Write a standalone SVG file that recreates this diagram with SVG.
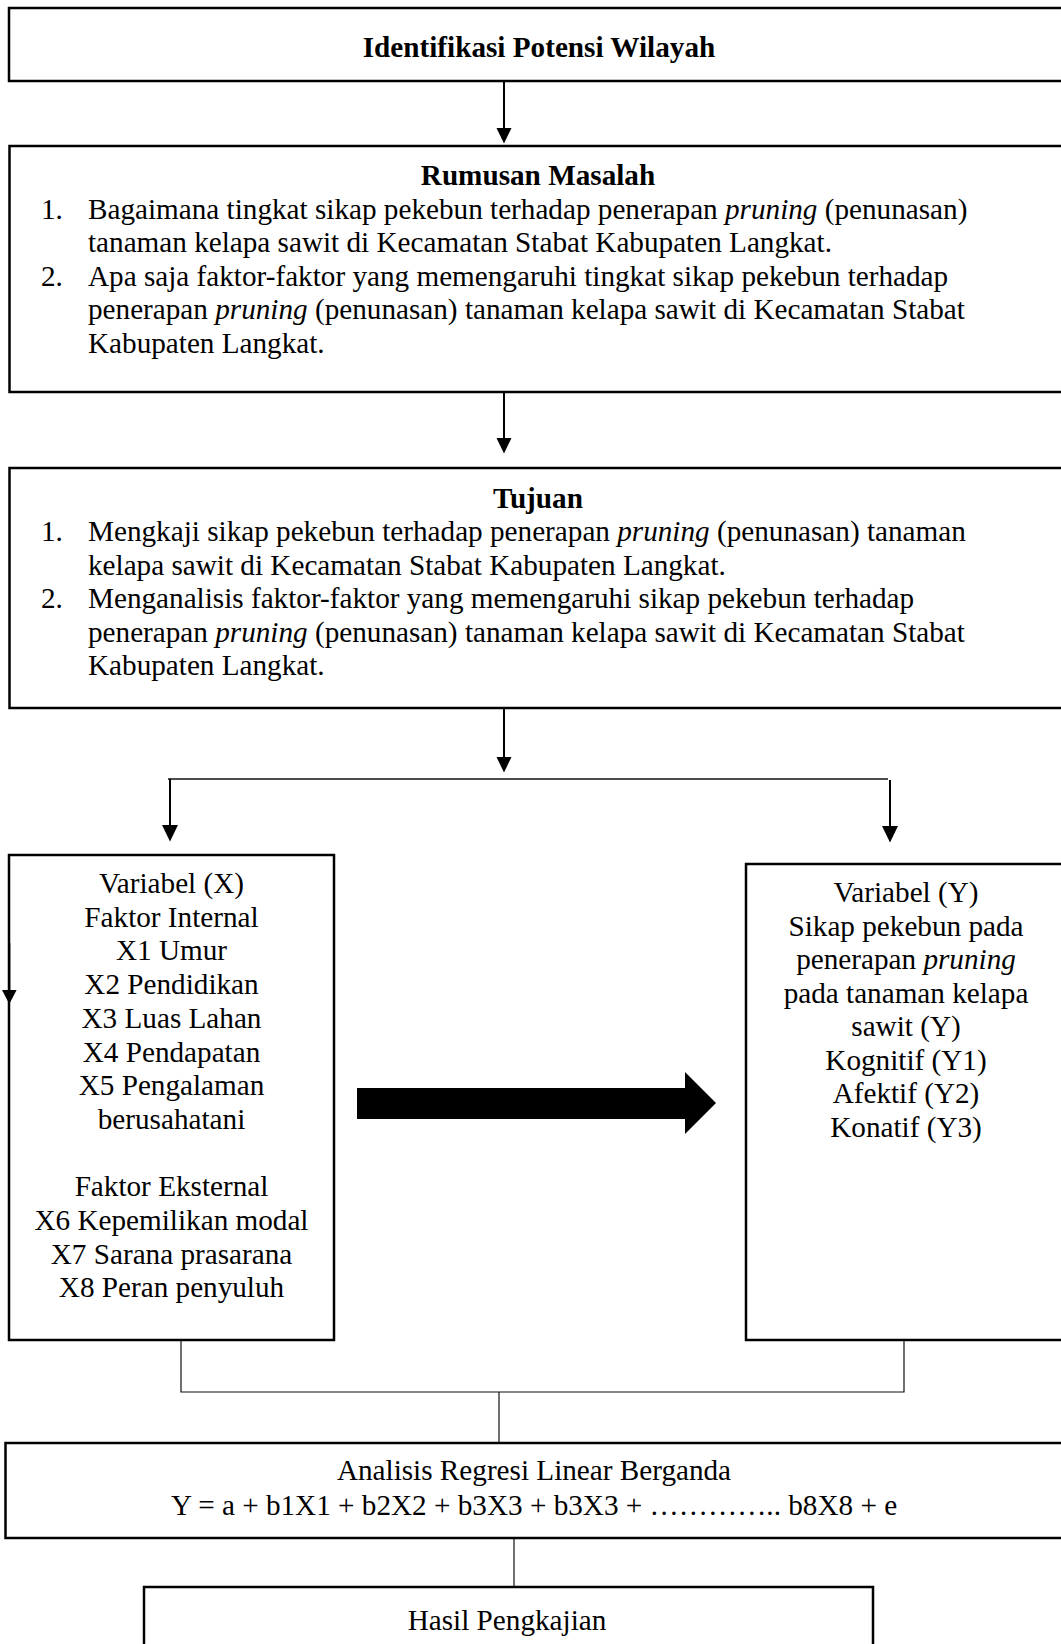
<svg xmlns="http://www.w3.org/2000/svg" width="1061" height="1644" viewBox="0 0 1061 1644">
<style>
.box{fill:#fff;stroke:#000;stroke-width:2.5}
.t{font-family:"Liberation Serif","Times New Roman",serif;font-size:29.2px;fill:#000}
.c{text-anchor:middle}
.b{font-weight:bold}
.i{font-style:italic}
.ln{stroke:#000;stroke-width:2;fill:none}
.thin{stroke:#111;stroke-width:1.2;fill:none}
.head{fill:#000}
</style>
<rect width="1061" height="1644" fill="#fff"/>
<g id="connectors">
<line class="ln" x1="504" y1="81" x2="504" y2="130"/>
<polygon class="head" points="496.5,128 511.5,128 504,143.5"/>
<line class="ln" x1="504" y1="392" x2="504" y2="440"/>
<polygon class="head" points="496.5,438 511.5,438 504,453.5"/>
<line class="ln" x1="504" y1="708" x2="504" y2="759"/>
<polygon class="head" points="496.5,757 511.5,757 504,772.5"/>
<line class="thin" x1="168" y1="779" x2="888" y2="779" style="stroke-width:1.6"/>
<line class="ln" x1="170" y1="779" x2="170" y2="827"/>
<polygon class="head" points="162,825 178,825 170,841.5"/>
<line class="ln" x1="890" y1="780" x2="890" y2="828"/>
<polygon class="head" points="882,826 898,826 890,842.5"/>
<polygon class="head" points="357,1088 685,1088 685,1072 716,1103 685,1134 685,1119 357,1119"/>
<polyline class="thin" points="181,1340 181,1392 904,1392 904,1340"/>
<line class="thin" x1="499" y1="1392" x2="499" y2="1443"/>
<line class="thin" x1="514" y1="1535" x2="514" y2="1587"/>
</g>
<g id="node-identifikasi">
<rect class="box" x="9" y="8" width="1070" height="73"/>
<text class="t c b" x="539" y="57">Identifikasi Potensi Wilayah</text>
</g>
<g id="node-rumusan">
<rect class="box" x="9.5" y="146" width="1070" height="246"/>
<text class="t c b" x="538" y="184.5">Rumusan Masalah</text>
<text class="t" x="41" y="218.5">1.</text>
<text class="t" x="88" y="218.5">Bagaimana tingkat sikap pekebun terhadap penerapan <tspan class="i">pruning</tspan> (penunasan)</text>
<text class="t" x="88" y="252">tanaman kelapa sawit di Kecamatan Stabat Kabupaten Langkat.</text>
<text class="t" x="41" y="285.5">2.</text>
<text class="t" x="88" y="285.5">Apa saja faktor-faktor yang memengaruhi tingkat sikap pekebun terhadap</text>
<text class="t" x="88" y="319">penerapan <tspan class="i">pruning</tspan> (penunasan) tanaman kelapa sawit di Kecamatan Stabat</text>
<text class="t" x="88" y="352.5">Kabupaten Langkat.</text>
</g>
<g id="node-tujuan">
<rect class="box" x="9.5" y="468" width="1070" height="240"/>
<text class="t c b" x="538" y="508">Tujuan</text>
<text class="t" x="41" y="541">1.</text>
<text class="t" x="88" y="541">Mengkaji sikap pekebun terhadap penerapan <tspan class="i">pruning</tspan> (penunasan) tanaman</text>
<text class="t" x="88" y="574.5">kelapa sawit di Kecamatan Stabat Kabupaten Langkat.</text>
<text class="t" x="41" y="608">2.</text>
<text class="t" x="88" y="608">Menganalisis faktor-faktor yang memengaruhi sikap pekebun terhadap</text>
<text class="t" x="88" y="641.5">penerapan <tspan class="i">pruning</tspan> (penunasan) tanaman kelapa sawit di Kecamatan Stabat</text>
<text class="t" x="88" y="675">Kabupaten Langkat.</text>
</g>
<g id="node-variabel-x">
<rect class="box" x="9" y="855" width="325" height="485"/>
<g class="t c">
<text x="171.5" y="893">Variabel (X)</text>
<text x="171.5" y="926.7">Faktor Internal</text>
<text x="171.5" y="960.4">X1 Umur</text>
<text x="171.5" y="994.1">X2 Pendidikan</text>
<text x="171.5" y="1027.8">X3 Luas Lahan</text>
<text x="171.5" y="1061.5">X4 Pendapatan</text>
<text x="171.5" y="1095.2">X5 Pengalaman</text>
<text x="171.5" y="1128.9">berusahatani</text>
<text x="171.5" y="1196.3">Faktor Eksternal</text>
<text x="171.5" y="1230">X6 Kepemilikan modal</text>
<text x="171.5" y="1263.7">X7 Sarana prasarana</text>
<text x="171.5" y="1297.4">X8 Peran penyuluh</text>
</g>
<line class="ln" x1="9.3" y1="943" x2="9.3" y2="991"/>
<polygon class="head" points="2,990 16.6,990 9.3,1004"/>
</g>
<g id="node-variabel-y">
<rect class="box" x="746" y="864" width="330" height="476"/>
<g class="t c">
<text x="906" y="902">Variabel (Y)</text>
<text x="906" y="935.5">Sikap pekebun pada</text>
<text x="906" y="969">penerapan <tspan class="i">pruning</tspan></text>
<text x="906" y="1002.5">pada tanaman kelapa</text>
<text x="906" y="1036">sawit (Y)</text>
<text x="906" y="1069.5">Kognitif (Y1)</text>
<text x="906" y="1103">Afektif (Y2)</text>
<text x="906" y="1136.5">Konatif (Y3)</text>
</g>
</g>
<g id="node-analisis">
<rect class="box" x="5.5" y="1443" width="1070" height="95"/>
<text class="t c" x="534" y="1480">Analisis Regresi Linear Berganda</text>
<text class="t c" x="534" y="1515">Y = a + b1X1 + b2X2 + b3X3 + b3X3 + ………….. b8X8 + e</text>
</g>
<g id="node-hasil">
<rect class="box" x="144" y="1587" width="729" height="90"/>
<text class="t c" x="507" y="1630">Hasil Pengkajian</text>
</g>
</svg>
